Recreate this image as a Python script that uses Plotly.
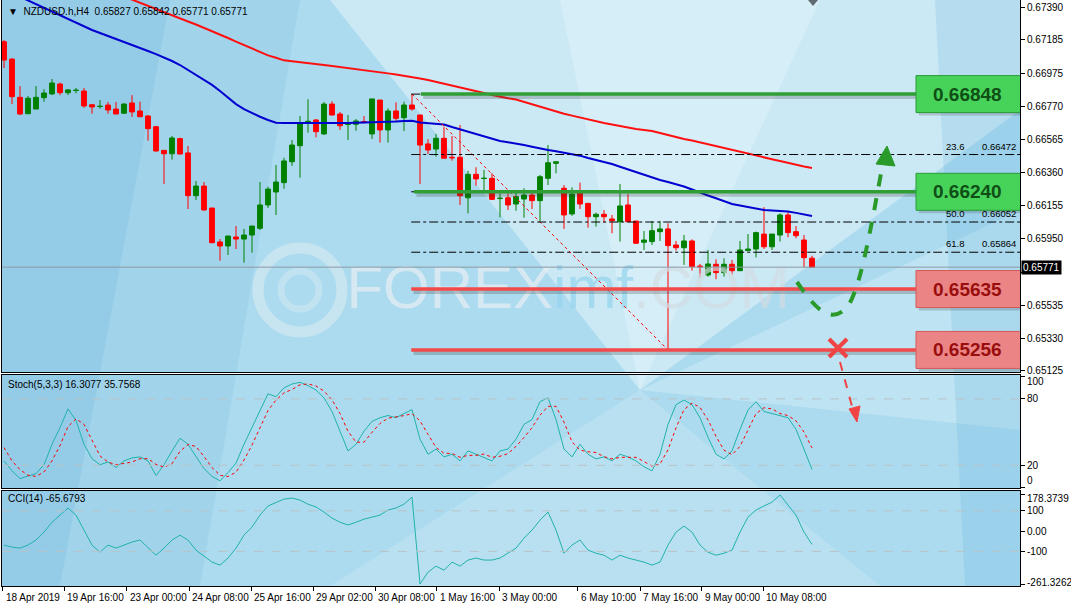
import plotly.graph_objects as go

# ---------------- data ----------------
open_ = [0.67174, 0.67066, 0.66828, 0.66726, 0.66755, 0.66826, 0.66849, 0.66911, 0.66857, 0.66871,
         0.66867, 0.66782, 0.66771, 0.66780, 0.66755, 0.66729, 0.66793, 0.66743, 0.66712, 0.66645,
         0.66498, 0.66477, 0.66571, 0.66482, 0.66216, 0.66276, 0.66139, 0.65928, 0.65903, 0.65959,
         0.65946, 0.65971, 0.66013, 0.66158, 0.66239, 0.66297, 0.66427, 0.66527, 0.66666, 0.66687,
         0.66600, 0.66786, 0.66724, 0.66659, 0.66660, 0.66676, 0.66600, 0.66811, 0.66625, 0.66743,
         0.66701, 0.66780, 0.66718, 0.66538, 0.66506, 0.66573, 0.66455, 0.66455, 0.66203, 0.66349,
         0.66323, 0.66324, 0.66198, 0.66203, 0.66164, 0.66195, 0.66220, 0.66185, 0.66324, 0.66417,
         0.66262, 0.66102, 0.66234, 0.66168, 0.66085, 0.66100, 0.66071, 0.66054, 0.66158, 0.66058,
         0.65926, 0.65930, 0.65992, 0.66009, 0.65909, 0.65892, 0.65934, 0.65778, 0.65722, 0.65789,
         0.65737, 0.65789, 0.65749, 0.65874, 0.65884, 0.65977, 0.65898, 0.65971, 0.66096, 0.65992,
         0.65940, 0.65827]
high = [0.67185, 0.67071, 0.66898, 0.66836, 0.66898, 0.66878, 0.66942, 0.66919, 0.66880, 0.66886,
        0.66886, 0.66782, 0.66811, 0.66799, 0.66799, 0.66793, 0.66842, 0.66801, 0.66718, 0.66650,
        0.66498, 0.66587, 0.66577, 0.66525, 0.66307, 0.66301, 0.66139, 0.65946, 0.65965, 0.66027,
        0.66009, 0.66027, 0.66301, 0.66272, 0.66407, 0.66452, 0.66562, 0.66712, 0.66816, 0.66693,
        0.66799, 0.66803, 0.66737, 0.66718, 0.66693, 0.66712, 0.66818, 0.66811, 0.66760, 0.66797,
        0.66801, 0.66848, 0.66718, 0.66567, 0.66600, 0.66645, 0.66587, 0.66656, 0.66371, 0.66393,
        0.66376, 0.66355, 0.66231, 0.66231, 0.66234, 0.66262, 0.66241, 0.66345, 0.66531, 0.66427,
        0.66282, 0.66268, 0.66297, 0.66168, 0.66110, 0.66127, 0.66096, 0.66289, 0.66226, 0.66058,
        0.65996, 0.66058, 0.66058, 0.66044, 0.65934, 0.65971, 0.65944, 0.65791, 0.65878, 0.65820,
        0.65826, 0.65816, 0.65934, 0.65977, 0.65992, 0.66144, 0.65977, 0.66106, 0.66116, 0.66027,
        0.65971, 0.65842]
low = [0.67010, 0.66786, 0.66718, 0.66726, 0.66755, 0.66801, 0.66842, 0.66842, 0.66842, 0.66853,
       0.66763, 0.66726, 0.66757, 0.66726, 0.66724, 0.66724, 0.66706, 0.66707, 0.66558, 0.66490,
       0.66289, 0.66440, 0.66473, 0.66133, 0.66189, 0.66122, 0.65923, 0.65811, 0.65847, 0.65884,
       0.65799, 0.65861, 0.66002, 0.66139, 0.66096, 0.66259, 0.66401, 0.66328, 0.66608, 0.66579,
       0.66595, 0.66714, 0.66625, 0.66562, 0.66620, 0.66666, 0.66569, 0.66546, 0.66546, 0.66682,
       0.66618, 0.66745, 0.66289, 0.66475, 0.66459, 0.66449, 0.66434, 0.66158, 0.66106, 0.66278,
       0.66251, 0.66189, 0.66081, 0.66127, 0.66122, 0.66079, 0.66133, 0.66054, 0.66282, 0.66355,
       0.66009, 0.66091, 0.66133, 0.66017, 0.66023, 0.66048, 0.65982, 0.65930, 0.66054, 0.65915,
       0.65878, 0.65909, 0.65934, 0.65256, 0.65874, 0.65785, 0.65749, 0.65706, 0.65712, 0.65696,
       0.65712, 0.65722, 0.65749, 0.65874, 0.65832, 0.65884, 0.65878, 0.65930, 0.65957, 0.65951,
       0.65770, 0.65771]
close = [0.67060, 0.66832, 0.66724, 0.66822, 0.66828, 0.66855, 0.66917, 0.66857, 0.66874, 0.66872,
         0.66774, 0.66768, 0.66772, 0.66749, 0.66724, 0.66786, 0.66737, 0.66707, 0.66633, 0.66494,
         0.66477, 0.66575, 0.66475, 0.66216, 0.66276, 0.66127, 0.65923, 0.65903, 0.65965, 0.65946,
         0.65971, 0.66027, 0.66158, 0.66257, 0.66301, 0.66432, 0.66531, 0.66670, 0.66679, 0.66614,
         0.66786, 0.66718, 0.66651, 0.66660, 0.66681, 0.66676, 0.66818, 0.66625, 0.66743, 0.66697,
         0.66780, 0.66755, 0.66531, 0.66500, 0.66573, 0.66449, 0.66452, 0.66216, 0.66349, 0.66320,
         0.66324, 0.66193, 0.66200, 0.66158, 0.66210, 0.66220, 0.66185, 0.66334, 0.66421, 0.66427,
         0.66096, 0.66226, 0.66164, 0.66085, 0.66100, 0.66085, 0.66060, 0.66152, 0.66054, 0.65920,
         0.65940, 0.65998, 0.66009, 0.65905, 0.65892, 0.65934, 0.65774, 0.65774, 0.65791, 0.65737,
         0.65789, 0.65749, 0.65878, 0.65884, 0.65986, 0.65898, 0.65977, 0.66096, 0.65986, 0.65967,
         0.65830, 0.65771]
ma_blue = [0.67500, 0.67477, 0.67454, 0.67431, 0.67407, 0.67384, 0.67362, 0.67339, 0.67315, 0.67293,
           0.67270, 0.67247, 0.67228, 0.67210, 0.67191, 0.67172, 0.67154, 0.67135, 0.67116, 0.67097,
           0.67076, 0.67054, 0.67029, 0.66998, 0.66967, 0.66936, 0.66905, 0.66867, 0.66827, 0.66786,
           0.66755, 0.66730, 0.66707, 0.66687, 0.66670, 0.66668, 0.66668, 0.66666, 0.66666, 0.66666,
           0.66665, 0.66666, 0.66668, 0.66668, 0.66670, 0.66671, 0.66673, 0.66674, 0.66676, 0.66677,
           0.66681, 0.66682, 0.66671, 0.66668, 0.66664, 0.66659, 0.66643, 0.66629, 0.66614, 0.66600,
           0.66585, 0.66570, 0.66556, 0.66548, 0.66541, 0.66531, 0.66521, 0.66509, 0.66500, 0.66492,
           0.66483, 0.66475, 0.66465, 0.66450, 0.66438, 0.66425, 0.66413, 0.66396, 0.66379, 0.66360,
           0.66343, 0.66329, 0.66313, 0.66301, 0.66289, 0.66273, 0.66254, 0.66234, 0.66217, 0.66200,
           0.66181, 0.66164, 0.66155, 0.66145, 0.66136, 0.66127, 0.66124, 0.66121, 0.66117, 0.66109,
           0.66099, 0.66089]
ma_red = [0.67745, 0.67726, 0.67707, 0.67689, 0.67670, 0.67651, 0.67633, 0.67611, 0.67591, 0.67570,
          0.67552, 0.67533, 0.67515, 0.67494, 0.67475, 0.67455, 0.67436, 0.67417, 0.67398, 0.67378,
          0.67359, 0.67339, 0.67320, 0.67300, 0.67281, 0.67261, 0.67242, 0.67219, 0.67197, 0.67175,
          0.67153, 0.67129, 0.67106, 0.67089, 0.67074, 0.67058, 0.67053, 0.67048, 0.67042, 0.67035,
          0.67029, 0.67023, 0.67017, 0.67010, 0.67004, 0.66998, 0.66991, 0.66984, 0.66977, 0.66970,
          0.66963, 0.66954, 0.66945, 0.66936, 0.66925, 0.66913, 0.66902, 0.66890, 0.66878, 0.66867,
          0.66855, 0.66842, 0.66830, 0.66822, 0.66814, 0.66799, 0.66784, 0.66769, 0.66753, 0.66738,
          0.66726, 0.66714, 0.66702, 0.66690, 0.66677, 0.66668, 0.66659, 0.66649, 0.66640, 0.66631,
          0.66624, 0.66618, 0.66606, 0.66593, 0.66581, 0.66569, 0.66559, 0.66547, 0.66535, 0.66524,
          0.66513, 0.66500, 0.66489, 0.66478, 0.66466, 0.66455, 0.66443, 0.66432, 0.66419, 0.66407,
          0.66397, 0.66388]
stoch_k = [24, 15, 8, 10, 12.5, 20.5, 39, 54, 71, 60.5,
           39, 26, 20.5, 23, 18, 24, 26.7, 27.6, 24, 10.7,
           20.5, 33, 44.5, 39, 27.6, 17, 10, 6, 13.4, 22,
           39, 54, 70, 84.6, 82, 90, 93.5, 95, 92, 88,
           81, 68.6, 50.8, 33, 39, 50.8, 59.7, 63, 65, 63,
           66.8, 70.3, 43.6, 30, 34.7, 27.6, 30, 24, 33, 30,
           27.6, 24, 33, 34.7, 43.6, 57, 61.4, 77.5, 81, 61.4,
           34.7, 27.6, 39, 30, 25.8, 27.6, 24, 30, 27.6, 24,
           18.7, 15, 30, 57, 74.8, 79, 74.8, 63, 45.4, 30,
           25.8, 33, 52.5, 70, 77.5, 68.6, 66.8, 65, 63, 52.5,
           34.7, 16.3077]
stoch_d = [36, 24, 16, 11, 10, 14, 24, 38, 55, 62,
           57, 42, 28.5, 23, 20.5, 21.7, 23, 26, 26, 20.8,
           18.4, 21.4, 32.7, 38.8, 37, 28, 18, 11, 9.8, 13.8,
           24.8, 38.3, 54.3, 69.5, 78.9, 85.5, 88.5, 92.8, 93.5, 91.7,
           87, 79.2, 66.8, 50.8, 40.9, 40.9, 49.8, 57.8, 62.6, 63.7,
           64.9, 66.7, 60.2, 48, 36.1, 30.8, 30.8, 27.2, 29, 29,
           30.2, 27.2, 28.2, 30.6, 37.1, 45.1, 54, 65.3, 73.3, 73.3,
           59, 41.2, 33.8, 32.2, 31.6, 27.8, 25.8, 27.2, 27.2, 27.2,
           23.4, 19.2, 21.2, 34, 53.9, 70.3, 76.2, 72.3, 61.1, 46.1,
           33.7, 29.6, 37.1, 51.8, 66.7, 72, 71, 66.8, 64.9, 60.2,
           50.1, 35.7568]
cci = [-69, -79, -84, -69, -44, -5, 44, 79, 114, 79,
       5, -69, -104, -69, -84, -69, -54, -44, -84, -119,
       -84, -44, -20, -44, -94, -124, -153, -168, -133, -84,
       -20, 20, 79, 124, 143, 158, 163, 153, 133, 119,
       94, 64, 44, 30, 44, 59, 69, 79, 104, 114,
       133, 168, -261.3262, -203, -173, -193, -153, -173, -143, -133,
       -143, -143, -133, -109, -84, -35, 5, 54, 94, 5,
       -109, -69, -44, -94, -109, -119, -143, -119, -133, -143,
       -153, -168, -153, -69, -5, 25, -5, -69, -104, -119,
       -109, -94, -5, 69, 104, 124, 143, 178.3739, 128, 79,
       -5, -65.6793]

x_tick_labels = ["18 Apr 2019", "19 Apr 16:00", "23 Apr 00:00", "24 Apr 08:00", "25 Apr 16:00",
                 "29 Apr 02:00", "30 Apr 08:00", "1 May 16:00", "3 May 00:00", "6 May 10:00",
                 "7 May 16:00", "9 May 00:00", "10 May 08:00"]
x_tick_pos = [-0.16, 7.54, 15.34, 23.13, 30.88, 38.66, 46.38, 54.09, 61.88, 71.71, 79.5, 87.21, 94.88]
price_ticks = [0.67390, 0.67185, 0.66975, 0.66770, 0.66565, 0.66360, 0.66155, 0.65950,
               0.65740, 0.65535, 0.65330, 0.65125]
stoch_ticks = [0, 20, 80, 100]
cci_ticks = [-261.3262, -100, 0, 100, 178.3739]
cci_tick_text = ["-261.3262", "-100", "0.00", "100", "178.3739"]
resistance_levels = [0.66848, 0.66240]
support_levels = [0.65635, 0.65256]
fib_ratios = ["23.6", "50.0", "61.8"]
fib_values = [0.66472, 0.66052, 0.65864]
fib_anchor_bars = [51, 83]   # swing high bar, swing low bar

n = len(close)
for arr in (open_, high, low, ma_blue, ma_red, stoch_k, stoch_d, cci):
    assert len(arr) == n, len(arr)
bars = list(range(n))

# ---------------- geometry helpers ----------------
W, H = 1071, 611
ML, MR, MT, MB = 2, 51, 0, 25
PW, PH = W - ML - MR, H - MT - MB
FONT = "Liberation Sans"


def px(x):
    return (x - ML) / PW


def py(y):
    return (PH - (y - MT)) / PH


def path(points, close_path=False):
    s = "M " + " L ".join(f"{px(a):.5f},{py(b):.5f}" for a, b in points)
    return s + (" Z" if close_path else "")


def cpath(cmds):
    out = []
    for c in cmds:
        op, pts = c[0], c[1:]
        out.append(op + " " + " ".join(f"{px(a):.5f},{py(b):.5f}" for a, b in pts))
    return " ".join(out)


XMAX = 127.0
main_dom = [py(372), 1.0]
stoch_dom = [py(488), py(375)]
cci_dom = [0.0, py(491)]

fig = go.Figure()

# watermark (drawn first so it sits behind everything)
fig.add_trace(go.Scatter(
    x=[42.8], y=[0.65610], mode="text", xaxis="x", yaxis="y", hoverinfo="skip",
    text=["<span style='color:rgba(232,238,243,0.7)'>FOREX</span>"
          "<span style='color:rgba(150,212,238,0.75)'>imf</span>"
          "<span style='color:rgba(210,220,226,0.7)'>.COM</span>"],
    textposition="middle right",
    textfont=dict(family="Liberation Sans Narrow, Liberation Sans", size=60), showlegend=False))

# candles
fig.add_trace(go.Candlestick(
    x=bars, open=open_, high=high, low=low, close=close, xaxis="x", yaxis="y",
    increasing=dict(line=dict(color="#008000", width=1), fillcolor="#008000"),
    decreasing=dict(line=dict(color="#ff0000", width=1), fillcolor="#ff0000"),
    whiskerwidth=0, showlegend=False, hoverinfo="skip"))

# moving averages
fig.add_trace(go.Scatter(x=bars, y=ma_red, mode="lines", line=dict(color="#ff1010", width=2),
                         xaxis="x", yaxis="y", showlegend=False, hoverinfo="skip"))
fig.add_trace(go.Scatter(x=bars, y=ma_blue, mode="lines", line=dict(color="#0000d0", width=2),
                         xaxis="x", yaxis="y", showlegend=False, hoverinfo="skip"))

# fibonacci diagonal
b0, b1 = fib_anchor_bars
fig.add_trace(go.Scatter(x=[b0, b1], y=[high[b0], low[b1]], mode="lines",
                         line=dict(color="#ff0000", width=1, dash="dot"),
                         xaxis="x", yaxis="y", showlegend=False, hoverinfo="skip"))

# stochastic
fig.add_trace(go.Scatter(x=bars, y=stoch_k, mode="lines", line=dict(color="#20b2aa", width=1),
                         xaxis="x2", yaxis="y2", showlegend=False, hoverinfo="skip"))
fig.add_trace(go.Scatter(x=bars, y=stoch_d, mode="lines", line=dict(color="#ff0000", width=1, dash="dot"),
                         xaxis="x2", yaxis="y2", showlegend=False, hoverinfo="skip"))
# CCI
fig.add_trace(go.Scatter(x=bars, y=cci, mode="lines", line=dict(color="#20b2aa", width=1),
                         xaxis="x3", yaxis="y3", showlegend=False, hoverinfo="skip"))

shapes = []
# ---- background ----
shapes.append(dict(type="rect", xref="paper", yref="paper", x0=0, x1=1, y0=0, y1=1,
                   fillcolor="#acdbef", line=dict(width=0), layer="below"))
bg_polys = [
    ([(2, 0), (170, 0), (60, 586), (2, 586)], "rgba(70,160,210,0.24)"),
    ([(170, 0), (300, 0), (200, 586), (60, 586)], "rgba(70,160,210,0.10)"),
    ([(330, 0), (1020, 0), (1020, 110), (640, 390)], "rgba(255,255,255,0.38)"),
    ([(640, 390), (1020, 210), (1020, 430)], "rgba(255,255,255,0.22)"),
    ([(640, 390), (330, 586), (880, 586)], "rgba(255,255,255,0.16)"),
    ([(560, 0), (820, 0), (640, 390)], "rgba(255,255,255,0.22)"),
    ([(935, 0), (1020, 0), (1020, 586), (965, 586)], "rgba(70,160,210,0.16)"),
]
for pts, col in bg_polys:
    shapes.append(dict(type="path", xref="paper", yref="paper", path=path(pts, True),
                       fillcolor=col, line=dict(width=0), layer="below"))
# white separators between panels
for y0, y1 in [(372, 375), (488, 491)]:
    shapes.append(dict(type="rect", xref="paper", yref="paper", x0=-0.01, x1=1.01,
                       y0=py(y1), y1=py(y0), fillcolor="white", line=dict(width=0), layer="below"))
# watermark logo ring
shapes.append(dict(type="circle", xref="paper", yref="paper", x0=px(258), x1=px(342),
                   y0=py(332), y1=py(248), line=dict(color="rgba(232,240,245,0.45)", width=11),
                   layer="below"))
shapes.append(dict(type="circle", xref="paper", yref="paper", x0=px(281), x1=px(319),
                   y0=py(309), y1=py(271), line=dict(color="rgba(232,240,245,0.35)", width=7),
                   layer="below"))

# current price line
shapes.append(dict(type="line", xref="x", yref="y", x0=-1, x1=XMAX + 1, y0=close[-1], y1=close[-1],
                   line=dict(color="#8c9aa4", width=1)))

# fibonacci level lines (0, 23.6, 38.2, 50, 61.8)
fib_start = b0 - 0.1
for v in [high[b0]] + fib_values + [resistance_levels[1]]:
    shapes.append(dict(type="line", xref="x", yref="y", x0=fib_start, x1=XMAX + 1, y0=v, y1=v,
                       line=dict(color="black", width=1, dash="dashdot")))

PXY = 0.00006223  # price per pixel in main panel
# level lines with shadows
level_starts = {0.66848: 52.1, 0.66240: 51.25, 0.65635: 50.9, 0.65256: 50.9}
for lvl, col in [(v, "#2f9e35") for v in resistance_levels] + [(v, "#f24a4a") for v in support_levels]:
    shapes.append(dict(type="line", xref="x", yref="y", x0=level_starts[lvl] + 0.3, x1=XMAX + 1,
                       y0=lvl - 3 * PXY, y1=lvl - 3 * PXY,
                       line=dict(color="rgba(60,60,60,0.25)", width=4)))
    shapes.append(dict(type="line", xref="x", yref="y", x0=level_starts[lvl], x1=XMAX + 1,
                       y0=lvl, y1=lvl, line=dict(color=col, width=3.5)))

# label boxes
box_x0, box_x1 = (916 - 4) / 8, XMAX + 1
half_h = 18.5 * PXY
box_styles = [(v, "#47d35a", "#2a9a36", "#0f4f16") for v in resistance_levels] + \
             [(v, "#eb8585", "#d45858", "#9a0d0d") for v in support_levels]
for lvl, fill, border, _ in box_styles:
    shapes.append(dict(type="rect", xref="x", yref="y", x0=box_x0 + 0.35, x1=box_x1,
                       y0=lvl - half_h - 3 * PXY, y1=lvl + half_h - 3 * PXY,
                       fillcolor="rgba(60,60,60,0.22)", line=dict(width=0)))
    shapes.append(dict(type="rect", xref="x", yref="y", x0=box_x0, x1=box_x1,
                       y0=lvl - half_h, y1=lvl + half_h, fillcolor=fill,
                       line=dict(color=border, width=1)))

# stochastic / CCI level lines
for v in [20, 80]:
    shapes.append(dict(type="line", xref="x2 domain", yref="y2", x0=0, x1=1, y0=v, y1=v,
                       line=dict(color="#b9c3c8", width=1, dash="dash")))
for v in [100, -100]:
    shapes.append(dict(type="line", xref="x3 domain", yref="y3", x0=0, x1=1, y0=v, y1=v,
                       line=dict(color="#b9c3c8", width=1, dash="dash")))

# green dashed scenario arrow
shapes.append(dict(type="path", xref="paper", yref="paper",
                   path=cpath([("M", (797, 282)), ("C", (812, 304), (830, 328), (848, 306)),
                               ("C", (862, 285), (873, 215), (883, 163))]),
                   line=dict(color="#2a9a2a", width=4, dash="dash")))
shapes.append(dict(type="path", xref="paper", yref="paper",
                   path=path([(887, 146), (876, 164), (895, 166)], True),
                   fillcolor="#2a9a2a", line=dict(color="#2a9a2a", width=1)))
# red X
for (a, b), (c, d) in [((829, 339), (847, 357)), ((829, 357), (847, 339))]:
    shapes.append(dict(type="line", xref="paper", yref="paper", x0=px(a), y0=py(b), x1=px(c), y1=py(d),
                       line=dict(color="#f04444", width=4)))
# red dashed arrow
shapes.append(dict(type="line", xref="paper", yref="paper", x0=px(840), y0=py(362), x1=px(853), y1=py(410),
                   line=dict(color="#f04444", width=2, dash="dash")))
shapes.append(dict(type="path", xref="paper", yref="paper",
                   path=path([(857, 422), (849, 409), (860, 406)], True),
                   fillcolor="#f04444", line=dict(color="#f04444", width=1)))
# MT4 shift marker
shapes.append(dict(type="path", xref="paper", yref="paper",
                   path=path([(808, 0), (818, 0), (813, 6)], True),
                   fillcolor="#606a70", line=dict(width=0)))

annotations = []
# box texts
for lvl, _, _, tcol in box_styles:
    annotations.append(dict(x=(967 - 4) / 8, y=lvl, xref="x", yref="y", text=f"<b>{lvl:.5f}</b>",
                            showarrow=False, font=dict(family=FONT, size=19, color=tcol)))
# fib labels
for r, v in zip(fib_ratios, fib_values):
    annotations.append(dict(x=(967 - 4) / 8, y=v, xref="x", yref="y", text=r, showarrow=False,
                            xanchor="right", yanchor="bottom", yshift=1,
                            font=dict(family=FONT, size=9.5, color="black")))
    annotations.append(dict(x=(1018 - 4) / 8, y=v, xref="x", yref="y", text=f"{v:.5f}", showarrow=False,
                            xanchor="right", yanchor="bottom", yshift=1,
                            font=dict(family=FONT, size=9.5, color="black")))
# titles
annotations.append(dict(x=px(6), y=py(12), xref="paper", yref="paper", xanchor="left", yanchor="middle",
                        showarrow=False, text="\u25bc  NZDUSD.h,H4  0.65827 0.65842 0.65771 0.65771",
                        font=dict(family=FONT, size=10, color="black")))
annotations.append(dict(x=px(6), y=py(384), xref="paper", yref="paper", xanchor="left", yanchor="middle",
                        showarrow=False, text="Stoch(5,3,3) 16.3077 35.7568",
                        font=dict(family=FONT, size=10, color="black")))
annotations.append(dict(x=px(6), y=py(498), xref="paper", yref="paper", xanchor="left", yanchor="middle",
                        showarrow=False, text="CCI(14) -65.6793",
                        font=dict(family=FONT, size=10, color="black")))
# current price tag
annotations.append(dict(x=1, y=close[-1], xref="paper", yref="y", xanchor="left", yanchor="middle",
                        xshift=1, showarrow=False, text=f"{close[-1]:.5f}", bgcolor="black",
                        borderpad=1, font=dict(family=FONT, size=10, color="white")))
# x tick labels (left aligned like MT4)
for t, p in zip(x_tick_labels, x_tick_pos):
    annotations.append(dict(x=p, y=0, xref="x3", yref="paper", xanchor="left", yanchor="top",
                            xshift=1, yshift=-4, showarrow=False, text=t,
                            font=dict(family=FONT, size=10, color="black")))
# indicator axis labels (MT4 keeps the extreme labels inside the window)
lab_font = dict(family=FONT, size=10, color="black")
for v, shift in zip(stoch_ticks, [7, 0, 0, -5]):
    annotations.append(dict(x=1, y=v, xref="paper", yref="y2", xanchor="left", yanchor="middle",
                            xshift=5, yshift=shift, showarrow=False, text=str(v), font=lab_font))
for v, t, shift in zip(cci_ticks, cci_tick_text, [2, 0, 0, 0, -4]):
    annotations.append(dict(x=1, y=v, xref="paper", yref="y3", xanchor="left", yanchor="middle",
                            xshift=5, yshift=shift, showarrow=False, text=t, font=lab_font))

axis_common = dict(showline=True, mirror=True, linecolor="black", linewidth=1, showgrid=False,
                   zeroline=False)
tickfont = dict(family=FONT, size=10, color="black")
# the tick hidden behind the current-price tag keeps its mark but no visible text
price_tick_text = ["" if abs(v - close[-1]) < 0.0005 else f"{v:.5f}" for v in price_ticks]

fig.update_layout(
    width=W, height=H, margin=dict(l=ML, r=MR, t=MT, b=MB),
    paper_bgcolor="white", plot_bgcolor="rgba(0,0,0,0)",
    showlegend=False, boxgap=0.4, boxgroupgap=0,
    xaxis=dict(domain=[0, 1], range=[-0.25, XMAX], anchor="y", showticklabels=False,
               rangeslider=dict(visible=False), **axis_common),
    xaxis2=dict(domain=[0, 1], range=[-0.25, XMAX], anchor="y2", matches="x", showticklabels=False,
                **axis_common),
    xaxis3=dict(domain=[0, 1], range=[-0.25, XMAX], anchor="y3", matches="x", showticklabels=False,
                ticks="outside", ticklen=4, tickcolor="black", tickvals=x_tick_pos, **axis_common),
    yaxis=dict(domain=main_dom, range=[0.674336 - 372 * PXY, 0.674336], anchor="x", side="right",
               tickvals=price_ticks, ticktext=price_tick_text, ticks="outside",
               ticklen=4, tickcolor="black", tickfont=tickfont, **axis_common),
    yaxis2=dict(domain=stoch_dom, range=[-0.5, 101.6], anchor="x2", side="right",
                tickvals=stoch_ticks, showticklabels=False, ticks="outside", ticklen=4,
                tickcolor="black", **axis_common),
    yaxis3=dict(domain=cci_dom, range=[-271, 198], anchor="x3", side="right",
                tickvals=cci_ticks, showticklabels=False, ticks="outside", ticklen=4,
                tickcolor="black", **axis_common),
    shapes=shapes, annotations=annotations,
)

fig.write_html("out.html", config={"displayModeBar": False},
               post_script="document.body.style.margin='0';")
